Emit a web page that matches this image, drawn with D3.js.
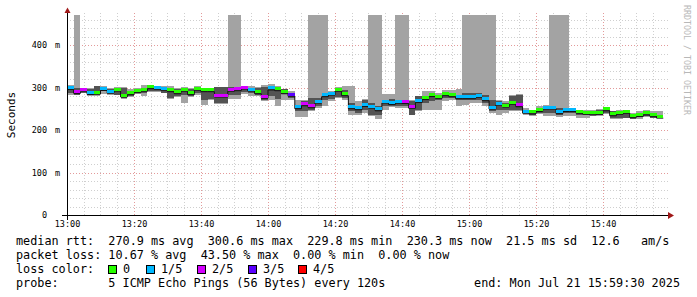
<!DOCTYPE html>
<html>
<head>
<meta charset="utf-8">
<title>median rtt / packet loss</title>
<style>
  body { margin: 0; background: #ffffff; }
  svg text { font-family: "DejaVu Sans Mono", monospace; }
  .legend text { white-space: pre; }
</style>
</head>
<body>
<script src="https://cdn.jsdelivr.net/npm/d3@7"></script>
<script>
// one probe round every 120s, starting at 13:00
var startTime = new Date(2025, 6, 21, 13, 0, 0);
var endTime = new Date(2025, 6, 21, 15, 59, 30);
var stepMs = 120 * 1000;

// median rtt per step (ms)
var median = [297.9, 288.5, 291.8, 286.1, 287.0, 295.5, 289.4, 294.1, 280.0, 285.4,
  290.1, 293.7, 299.5, 298.4, 296.0, 292.5, 287.7, 293.7, 285.4, 296.0,
  292.5, 292.5, 280.0, 280.0, 293.7, 294.8, 298.8, 294.1, 287.7, 277.1,
  296.5, 294.8, 287.7, 281.8, 252.4, 259.4, 254.7, 265.8, 280.7, 284.7,
  293.7, 283.0, 252.4, 250.0, 257.8, 254.0, 247.6, 265.8, 262.5, 265.4,
  264.9, 253.6, 267.3, 274.0, 281.1, 277.1, 283.0, 280.7, 275.9, 275.9,
  275.9, 279.5, 271.2, 251.7, 261.1, 256.4, 263.0, 257.1, 241.8, 240.1,
  245.8, 251.7, 251.7, 240.6, 245.8, 245.8, 241.8, 239.4, 237.8, 239.4,
  247.6, 235.8, 239.4, 241.8, 232.3, 234.0, 237.8, 234.7, 230.3];

// lost pings out of 5 per step
var lossCount = [1, 2, 2, 1, 0, 1, 1, 0, 0, 0,
  0, 0, 0, 1, 1, 0, 0, 0, 0, 0,
  0, 0, 2, 2, 2, 2, 2, 1, 0, 2,
  1, 0, 0, 3, 1, 2, 2, 1, 1, 1,
  0, 0, 1, 1, 1, 1, 1, 1, 1, 1,
  2, 2, 1, 0, 0, 0, 0, 0, 1, 1,
  1, 1, 1, 1, 1, 0, 0, 2, 1, 0,
  0, 1, 1, 1, 1, 1, 0, 0, 0, 0,
  0, 0, 0, 0, 0, 0, 0, 0, 0];

// smoke: sorted pings (ms); null in pingMax = lost ping, smoke to the top
var pingMin = [281.4, 281.4, 287.0, 279.0, 280.7, 285.4, 283.0, 281.4, 273.6, 278.3,
  285.4, 279.5, 290.1, 290.1, 286.6, 273.6, 278.3, 264.2, 278.3, 281.8,
  259.4, 271.2, 261.8, 261.8, 272.4, 272.4, 285.4, 279.0, 279.0, 268.9,
  271.2, 257.1, 271.2, 271.2, 229.5, 229.5, 245.3, 252.4, 255.5, 267.3,
  275.9, 271.2, 235.8, 235.8, 240.6, 231.9, 226.4, 247.6, 254.0, 252.4,
  252.4, 234.7, 243.7, 247.6, 246.0, 247.6, 267.3, 271.2, 257.1, 257.8,
  264.2, 264.2, 257.1, 240.6, 235.8, 240.6, 243.7, 245.3, 235.8, 233.5,
  238.2, 231.9, 231.9, 229.5, 233.5, 233.5, 228.3, 228.3, 231.9, 233.5,
  237.0, 227.0, 225.9, 227.6, 225.4, 225.9, 230.4, 227.4, 227.4];
var pingLo = [287.0, 283.0, 289.4, 283.0, 283.0, 290.8, 285.4, 283.0, 275.2, 280.7,
  287.7, 287.7, 292.5, 292.5, 287.7, 274.8, 280.7, 283.0, 279.5, 287.7,
  271.2, 273.6, 263.5, 263.5, 283.0, 283.0, 288.5, 287.7, 283.0, 271.2,
  279.0, 272.9, 285.4, 275.2, 243.7, 243.7, 247.6, 255.5, 271.2, 273.6,
  277.6, 275.2, 243.7, 240.6, 247.6, 235.8, 235.8, 255.5, 255.5, 255.5,
  255.5, 235.8, 247.6, 263.5, 267.3, 271.2, 275.2, 275.2, 271.2, 271.2,
  271.2, 271.2, 264.2, 243.7, 247.6, 247.6, 247.6, 247.6, 240.6, 235.8,
  240.6, 240.6, 240.6, 235.8, 240.6, 240.6, 235.8, 235.8, 234.7, 235.8,
  240.6, 228.3, 228.3, 228.3, 225.9, 229.5, 231.9, 228.3, 228.3];
var pingHi = [300.3, 298.8, 296.5, 296.5, 302.6, 301.2, 296.5, 298.8, 298.8, 292.5,
  294.8, 299.5, 303.0, 300.7, 299.5, 296.0, 296.0, 298.4, 296.0, 300.7,
  297.2, 297.2, 301.2, 301.2, 300.7, 300.7, 301.2, 299.5, 298.8, 301.2,
  304.2, 301.2, 296.5, 287.0, 259.4, 267.3, 275.2, 275.2, 283.0, 287.7,
  296.5, 294.8, 263.5, 257.1, 271.2, 263.5, 255.5, 271.2, 272.9, 271.2,
  271.2, 267.3, 279.0, 279.0, 283.0, 283.0, 285.4, 284.7, 283.0, 287.0,
  287.0, 287.0, 283.0, 271.2, 267.3, 263.5, 279.0, 283.0, 247.6, 243.7,
  251.7, 255.5, 255.5, 251.7, 251.7, 250.0, 243.7, 243.7, 241.8, 247.6,
  251.7, 243.7, 241.8, 243.7, 235.8, 240.6, 241.8, 237.4, 235.8];
var pingMax = [306.6, null, 298.8, 298.8, 304.2, 304.2, 298.8, 301.2, 300.7, 297.2,
  299.5, 305.5, 304.2, 303.0, 303.0, 303.0, 299.5, 300.7, 299.5, 304.2,
  299.5, 299.5, 301.9, 301.9, null, null, 304.2, 302.6, 301.2, 306.6,
  309.0, 304.2, 297.2, 292.5, 271.2, 271.2, null, null, null, 292.5,
  301.2, 304.2, 304.2, 267.3, 273.6, null, null, 285.4, 285.4, null,
  null, 271.2, 280.7, 290.8, 290.8, 287.0, 293.2, 294.8, 296.5, null,
  null, null, null, null, 271.2, 267.3, 283.0, 285.4, 251.7, 247.6,
  257.1, 259.4, null, null, null, 252.4, 245.3, 247.6, 247.6, 250.0,
  254.7, 245.3, 247.6, 247.6, 240.6, 243.7, 247.6, 243.7, 243.7];

var yTicks = [0, 100, 200, 300, 400];
var lossLabels = ["0", "1/5", "2/5", "3/5", "4/5"];
var lossColors = ["#26ff00", "#00b8ff", "#d400ff", "#5a00ff", "#ff0000"];

var legendRtt = ["270.9 ms avg", "300.6 ms max", "229.8 ms min", "230.3 ms now", "21.5 ms sd", "12.6   am/s"];
var legendLoss = ["10.67 % avg", "43.50 % max", "0.00 % min", "0.00 % now"];

// layout
var W = 697, H = 297;
var plotLeft = 67, plotRight = 668.3, plotTop = 15, plotBottom = 215;

var svg = d3.select("body").append("svg")
  .attr("width", W)
  .attr("height", H);

svg.append("rect").attr("width", W).attr("height", H).attr("fill", "#ffffff");

var x = d3.scaleTime().domain([startTime, endTime]).range([plotLeft, plotRight]);
var y = d3.scaleLinear().domain([0, 470.6]).range([plotBottom, plotTop]);

function stepTime(i) { return new Date(+startTime + i * stepMs); }

// grid
var grid = svg.append("g").attr("id", "grid").attr("shape-rendering", "crispEdges");
var minorTimes = d3.timeMinute.every(5).range(startTime, endTime).filter(function(d) { return d.getMinutes() % 20 != 0; });
var majorTimes = d3.timeMinute.every(20).range(startTime, endTime);
var minorVals = d3.range(20, 470, 20).filter(function(v) { return v % 100 != 0; });
var majorVals = yTicks.filter(function(v) { return v > 0; });

grid.selectAll(".vminor").data(minorTimes).enter().append("line")
  .attr("x1", function(d) { return Math.round(x(d)) + 0.5; })
  .attr("x2", function(d) { return Math.round(x(d)) + 0.5; })
  .attr("y1", plotTop - 2).attr("y2", plotBottom)
  .attr("stroke", "#cfcfcf").attr("stroke-dasharray", "1,2");
grid.selectAll(".hminor").data(minorVals).enter().append("line")
  .attr("x1", plotLeft).attr("x2", plotRight)
  .attr("y1", function(d) { return Math.round(y(d)) + 0.5; })
  .attr("y2", function(d) { return Math.round(y(d)) + 0.5; })
  .attr("stroke", "#cfcfcf").attr("stroke-dasharray", "1,2");
grid.selectAll(".vmajor").data(majorTimes).enter().append("line")
  .attr("x1", function(d) { return Math.round(x(d)) + 0.5; })
  .attr("x2", function(d) { return Math.round(x(d)) + 0.5; })
  .attr("y1", plotTop - 2).attr("y2", plotBottom)
  .attr("stroke", "#e39a9a").attr("stroke-dasharray", "1,2");
grid.selectAll(".hmajor").data(majorVals).enter().append("line")
  .attr("x1", plotLeft).attr("x2", plotRight)
  .attr("y1", function(d) { return Math.round(y(d)) + 0.5; })
  .attr("y2", function(d) { return Math.round(y(d)) + 0.5; })
  .attr("stroke", "#e39a9a").attr("stroke-dasharray", "1,2");

// smoke
var smoke = svg.append("g").attr("id", "smoke").attr("shape-rendering", "crispEdges");
smoke.selectAll(".outer").data(median).enter().append("rect")
  .attr("x", function(d, i) { return x(stepTime(i)); })
  .attr("width", function(d, i) { return x(stepTime(i + 1)) - x(stepTime(i)); })
  .attr("y", function(d, i) { return pingMax[i] == null ? plotTop : y(pingMax[i]); })
  .attr("height", function(d, i) { return y(pingMin[i]) - (pingMax[i] == null ? plotTop : y(pingMax[i])); })
  .attr("fill", "#a3a3a3");
smoke.selectAll(".inner").data(median).enter().append("rect")
  .attr("x", function(d, i) { return x(stepTime(i)); })
  .attr("width", function(d, i) { return x(stepTime(i + 1)) - x(stepTime(i)); })
  .attr("y", function(d, i) { return y(pingHi[i]); })
  .attr("height", function(d, i) { return y(pingLo[i]) - y(pingHi[i]); })
  .attr("fill", "#535353");

// median step line
var medPts = median.map(function(d, i) { return [x(stepTime(i)), y(d)]; });
medPts.push([x(stepTime(median.length)), y(median[median.length - 1])]);
svg.append("path")
  .attr("d", d3.line().curve(d3.curveStepAfter)(medPts))
  .attr("transform", "translate(0,1)")
  .attr("fill", "none")
  .attr("stroke", "#111")
  .attr("stroke-width", 1);

// loss coloured median bars
svg.append("g").attr("shape-rendering", "crispEdges")
  .selectAll("rect").data(median).enter().append("rect")
  .attr("x", function(d, i) { return x(stepTime(i)); })
  .attr("width", function(d, i) { return x(stepTime(i + 1)) - x(stepTime(i)); })
  .attr("y", function(d) { return y(d) - 2.5; })
  .attr("height", 3)
  .attr("fill", function(d, i) { return lossColors[lossCount[i]]; });

// axes lines + arrows
var axes = svg.append("g").attr("shape-rendering", "crispEdges");
axes.append("line").attr("x1", 62).attr("x2", 669).attr("y1", 215.5).attr("y2", 215.5).attr("stroke", "#000");
axes.append("line").attr("x1", 67.5).attr("x2", 67.5).attr("y1", 220).attr("y2", 12).attr("stroke", "#000");
svg.append("path").attr("d", "M668,212 L674,215.5 L668,219 Z").attr("fill", "#a01818");
svg.append("path").attr("d", "M64.5,13 L67.5,7.5 L70.5,13 Z").attr("fill", "#a01818");

// x tick labels
var xAxis = d3.axisBottom(x)
  .tickValues(majorTimes)
  .tickFormat(d3.timeFormat("%H:%M"))
  .tickSize(0).tickPadding(6);
svg.append("g")
  .attr("transform", "translate(0,215)")
  .call(xAxis)
  .call(function(g) { g.select(".domain").remove(); })
  .selectAll("text")
  .attr("font-family", "DejaVu Sans Mono")
  .attr("font-size", 8.5)
  .attr("fill", "#000");

// y tick labels
var yAxis = d3.axisLeft(y).tickValues(yTicks).tickFormat(d3.format("d")).tickSize(0).tickPadding(20);
var yg = svg.append("g").attr("transform", "translate(67,0)").call(yAxis);
yg.select(".domain").remove();
yg.selectAll("text").attr("font-family", "DejaVu Sans Mono").attr("font-size", 8.5).attr("fill", "#000");
yg.selectAll(".tick").filter(function(d) { return d > 0; }).append("text")
  .attr("x", -12).attr("dy", "0.32em")
  .attr("font-family", "DejaVu Sans Mono").attr("font-size", 8.5)
  .attr("fill", "#000").attr("text-anchor", "start")
  .text("m");

// axis title
svg.append("text")
  .attr("transform", "translate(15,115) rotate(-90)")
  .attr("text-anchor", "middle")
  .attr("font-size", 11)
  .text("Seconds");

// watermark
svg.append("text")
  .attr("transform", "translate(684,5) rotate(90)")
  .attr("font-size", 8.3)
  .attr("fill", "#b8b8b8")
  .text("RRDTOOL / TOBI OETIKER");

// legend
var lg = svg.append("g").attr("class", "legend").attr("font-size", 11.8).attr("fill", "#000");
lg.append("text").attr("x", 16).attr("y", 245).attr("xml:space", "preserve")
  .text("median rtt:  " + legendRtt.join("  "));
lg.append("text").attr("x", 16).attr("y", 259).attr("xml:space", "preserve")
  .text("packet loss: " + legendLoss.join("  "));

var boxX = [108, 146, 197, 248, 298];
lg.append("text").attr("x", 16).attr("y", 273).text("loss color:");
lossLabels.forEach(function(s, i) {
  lg.append("rect").attr("x", boxX[i] + 0.5).attr("y", 265.5).attr("width", 8).attr("height", 8)
    .attr("fill", lossColors[i]).attr("stroke", "#000").attr("stroke-width", 1);
  lg.append("text").attr("x", boxX[i] + 15).attr("y", 273).text(s);
});

lg.append("text").attr("x", 16).attr("y", 287).attr("xml:space", "preserve")
  .text("probe:       5 ICMP Echo Pings (56 Bytes) every 120s");
lg.append("text").attr("x", 680).attr("y", 287).attr("text-anchor", "end")
  .text("end: Mon Jul 21 15:59:30 2025");
</script>
</body>
</html>
